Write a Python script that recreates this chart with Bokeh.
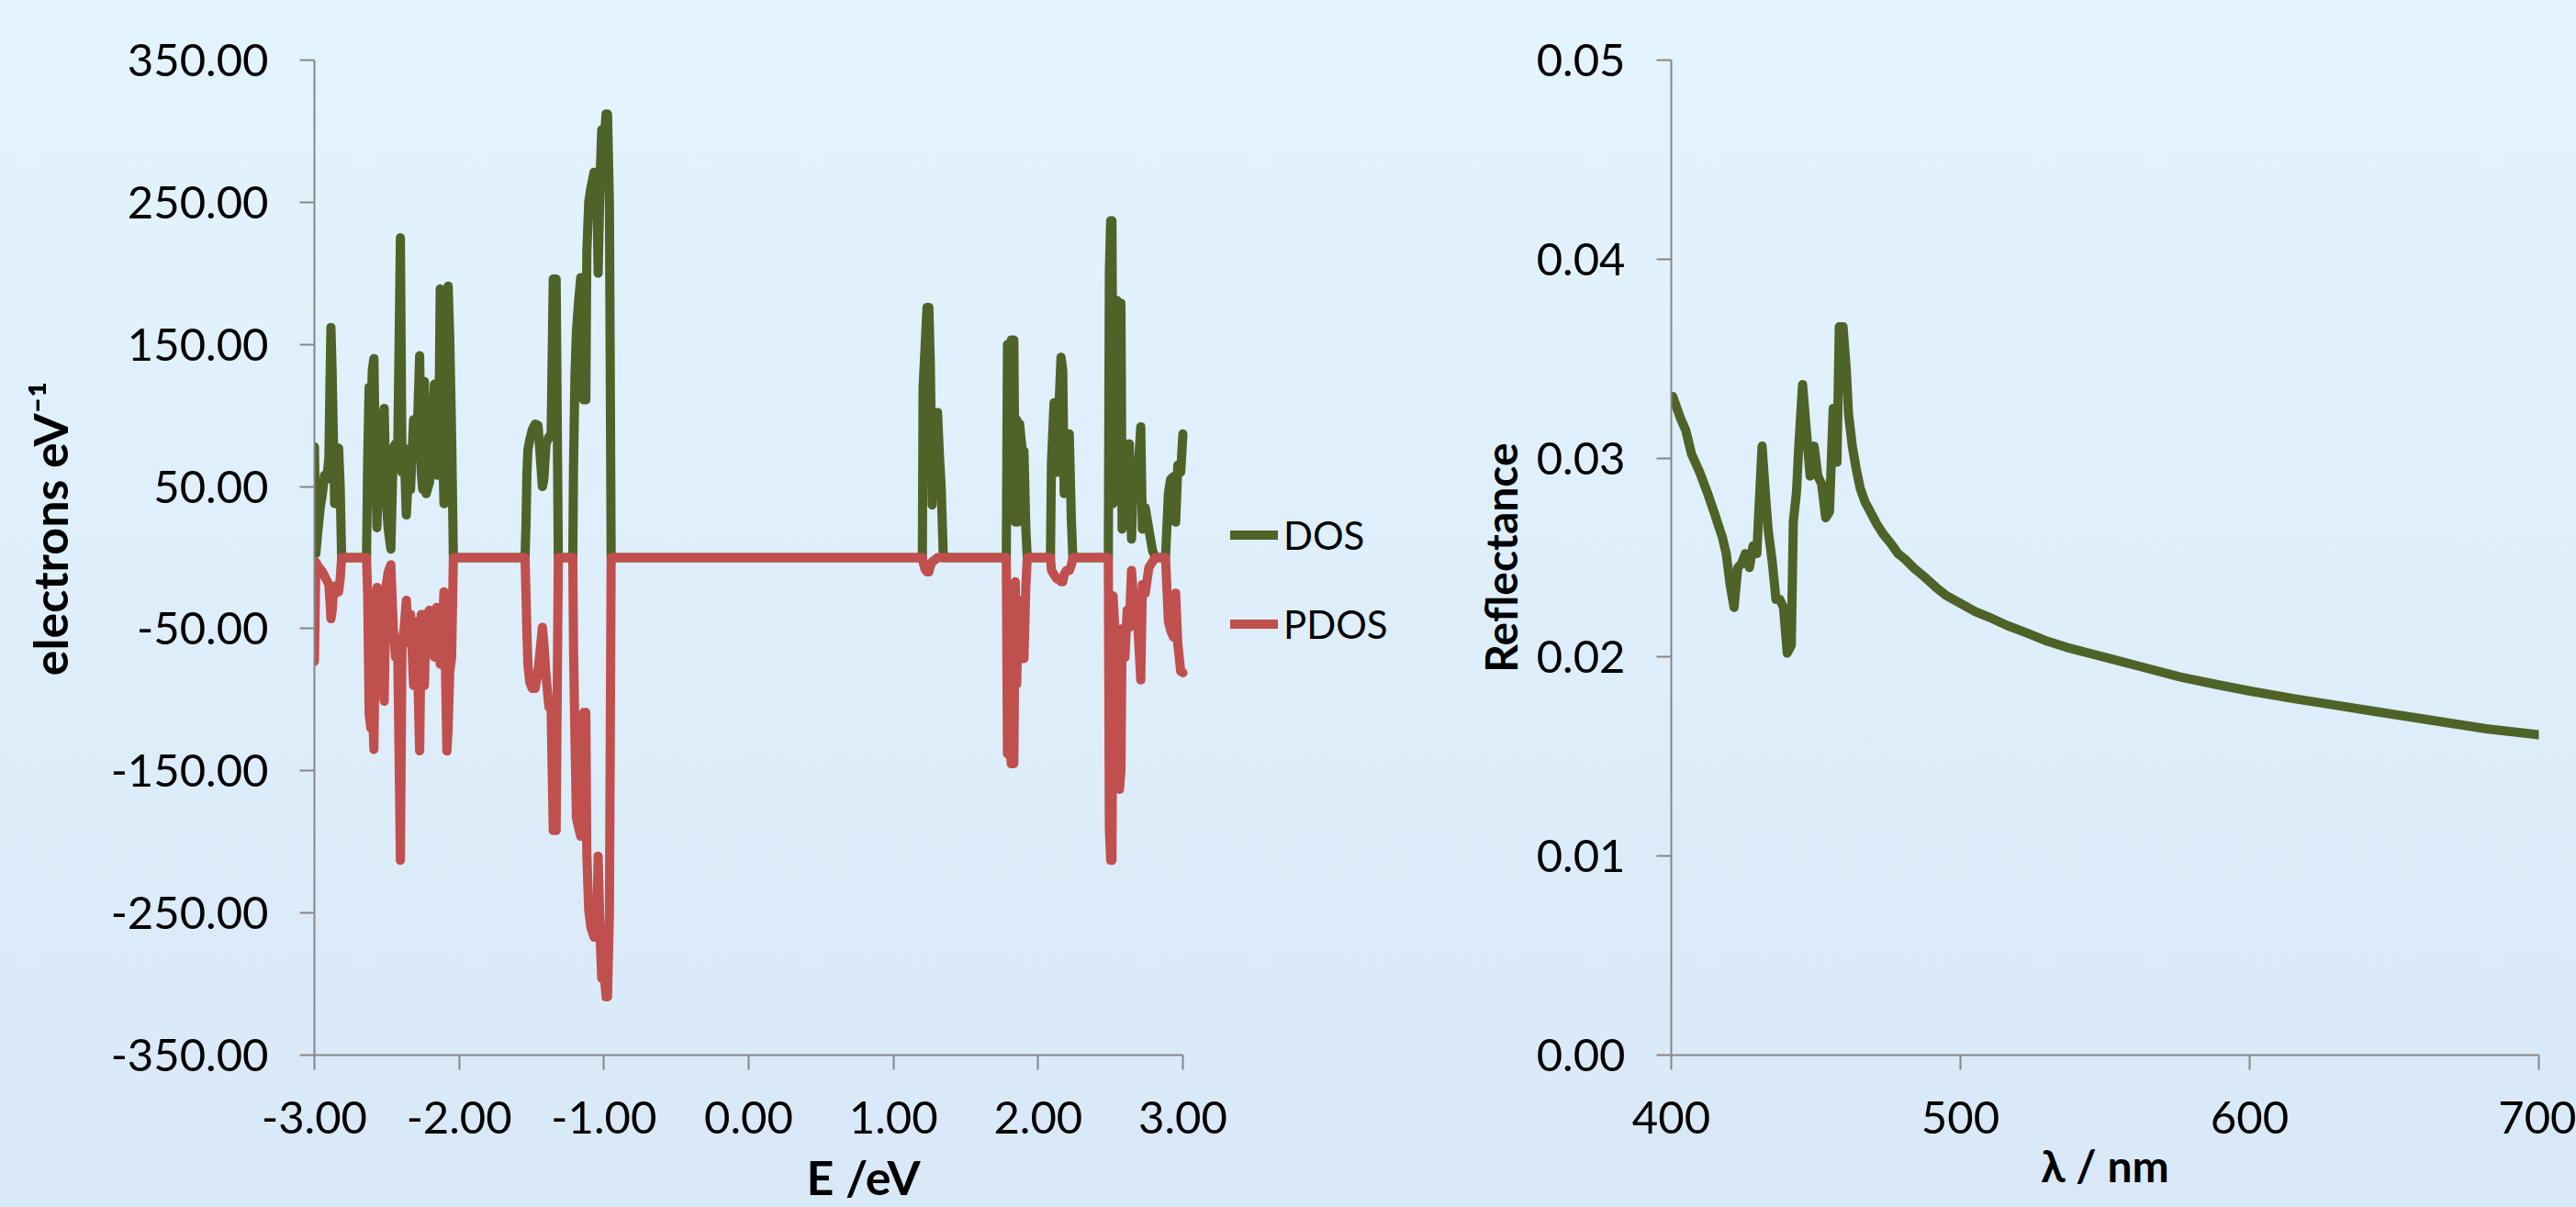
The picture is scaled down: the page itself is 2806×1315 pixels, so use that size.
from bokeh.plotting import figure
from bokeh.models import Range1d, FixedTicker, NumeralTickFormatter, Legend, LegendItem
from bokeh.layouts import row
from bokeh.embed import file_html
from bokeh.resources import INLINE

# ---------------- data ----------------
energy = [
    -3.000, -2.990, -2.975, -2.960, -2.945, -2.930, -2.915, -2.900, -2.893, -2.886, -2.878, -2.870,
    -2.860, -2.850, -2.840, -2.833, -2.822, -2.812,
    -2.640,
    -2.632, -2.622, -2.610, -2.600, -2.589, -2.578, -2.568, -2.555, -2.545, -2.530, -2.518, -2.505,
    -2.490, -2.472, -2.455, -2.440, -2.425, -2.406, -2.395, -2.380, -2.365, -2.350, -2.336, -2.315,
    -2.295, -2.273, -2.262, -2.252, -2.240, -2.228, -2.205, -2.190, -2.171, -2.155, -2.140, -2.131,
    -2.120, -2.105, -2.095, -2.085, -2.076, -2.065, -2.052, -2.040,
    -1.545,
    -1.538, -1.532, -1.525, -1.512, -1.495, -1.475, -1.455, -1.425, -1.415, -1.400, -1.380, -1.365,
    -1.350, -1.330, -1.315,
    -1.215,
    -1.210, -1.200, -1.190, -1.175, -1.160, -1.150, -1.140, -1.125, -1.118, -1.105, -1.090, -1.068,
    -1.050, -1.040, -1.025, -1.015, -1.000, -0.985, -0.975, -0.962, -0.950,
    1.200,
    1.205, 1.218, 1.232, 1.245, 1.255, 1.268, 1.280, 1.295, 1.305, 1.318, 1.330, 1.345,
    1.780,
    1.788, 1.800, 1.815, 1.832, 1.842, 1.852, 1.862, 1.872, 1.890, 1.902, 1.915, 1.925,
    2.085,
    2.092, 2.110, 2.130, 2.145, 2.158, 2.170, 2.180, 2.195, 2.215, 2.230, 2.240,
    2.485,
    2.492, 2.501, 2.510, 2.518, 2.535, 2.545, 2.552, 2.562, 2.572, 2.580, 2.600, 2.615, 2.630,
    2.645, 2.660, 2.690, 2.709, 2.720, 2.740, 2.765, 2.790, 2.810,
    2.880,
    2.900, 2.915, 2.935, 2.950, 2.965, 2.985, 3.000,
]
dos = [
    78, 3, 20, 35, 45, 58, 55, 70, 120, 162, 132, 90,
    38, 60, 77, 77, 50, 0,
    0,
    70, 120, 100, 132, 140, 60, 21, 80, 40, 95, 105, 40,
    20, 6, 77, 80, 70, 225, 60, 77, 30, 60, 48, 97,
    70, 142, 60, 48, 124, 45, 53, 80, 122, 58, 90, 189,
    100, 38, 60, 185, 191, 154, 85, 0,
    0,
    24, 59, 76, 83, 90, 94, 93, 50, 55, 80, 85, 85,
    196, 196, 0,
    0,
    63, 128, 159, 180, 197, 197, 111, 111, 215, 250, 260, 271,
    271, 200, 271, 301, 290, 312, 312, 250, 0,
    0,
    120, 146, 176, 176, 137, 37, 102, 72, 102, 72, 50, 0,
    0,
    150, 145, 153, 153, 25, 97, 25, 94, 75, 75, 20, 0,
    0,
    67, 109, 60, 109, 141, 132, 45, 87, 87, 25, 0,
    0,
    200, 237, 237, 38, 100, 181, 60, 179, 179, 20, 80, 28, 80,
    13, 60, 60, 92, 20, 35, 20, 5, 0,
    0,
    45, 55, 57, 25, 65, 60, 87,
]
pdos = [
    -73, -3, -6, -8, -10, -13, -16, -19, -30, -43, -38, -26,
    -20, -25, -24, -24, -15, 0,
    0,
    -26, -110, -120, -100, -135, -40, -21, -70, -30, -90, -101, -20,
    -10, -5, -50, -70, -60, -213, -60, -50, -30, -60, -40, -90,
    -45, -136, -40, -40, -90, -41, -37, -50, -70, -35, -40, -75,
    -60, -24, -75, -136, -120, -80, -70, 0,
    0,
    -27, -53, -75, -88, -92, -92, -80, -49, -60, -83, -105, -105,
    -192, -192, 0,
    0,
    -62, -127, -183, -190, -196, -196, -109, -109, -209, -248, -260, -267,
    -267, -210, -270, -296, -290, -309, -309, -250, 0,
    0,
    -3, -8, -10, -10, -6, -3, -2, -1, 0, 0, 0, 0,
    0,
    -138, -130, -145, -145, -17, -89, -30, -49, -71, -71, -20, 0,
    0,
    -9, -12, -15, -15, -17, -17, -12, -9, -9, -5, 0,
    0,
    -190, -213, -213, -27, -60, -160, -80, -163, -150, -50, -70, -37, -49,
    -9, -30, -50, -86, -19, -25, -7, -3, 0,
    0,
    -45, -51, -56, -25, -61, -80, -81,
]

wavelength = [
    400.5, 403.2, 405.0, 407.0, 409.8, 412.4, 415.0, 417.7, 419.0, 420.3, 421.7, 423.0,
    424.3, 425.6, 427.0, 428.3, 429.6, 430.1, 431.4, 432.7, 433.5, 434.9, 436.2, 437.5,
    438.8, 440.1, 441.5, 442.2, 443.3, 444.1, 445.4, 446.7, 448.0, 449.4, 450.7, 452.0,
    453.4, 454.7, 456.0, 457.3, 458.1, 459.4, 460.5, 461.3, 462.6, 463.9, 465.3, 467.0,
    469.2, 471.0, 473.2, 476.0, 478.4, 481.0, 483.7, 487.0, 491.6, 495.0, 500.0, 505.0,
    510.0, 516.0, 523.2, 530.0, 536.5, 549.7, 562.9, 576.1, 589.3, 599.9,
    615.7, 628.9, 642.1, 655.3, 668.6, 681.8, 700.0,
]
reflectance = [
    0.0331, 0.0320, 0.0314, 0.0302, 0.0293, 0.0283, 0.0272, 0.0260, 0.0252, 0.0237, 0.0225, 0.0245,
    0.0247, 0.0252, 0.0245, 0.0256, 0.0252, 0.0268, 0.0306, 0.0279, 0.0264, 0.0248, 0.0229, 0.0229,
    0.0225, 0.0202, 0.0206, 0.0268, 0.0283, 0.0306, 0.0337, 0.0314, 0.0291, 0.0306, 0.0291, 0.0287,
    0.0270, 0.0273, 0.0325, 0.0298, 0.0366, 0.0366, 0.0345, 0.0322, 0.0306, 0.0295, 0.0285, 0.0278,
    0.0272, 0.0267, 0.0262, 0.0257, 0.0252, 0.0249, 0.0245, 0.0241, 0.0235, 0.0231, 0.0227, 0.0223,
    0.0220, 0.0216, 0.0212, 0.0208, 0.0205, 0.0200, 0.0195, 0.0190, 0.0186, 0.0183,
    0.0179, 0.0176, 0.0173, 0.0170, 0.0167, 0.0164, 0.0161,
]

dos_ticks_x = [-3, -2, -1, 0, 1, 2, 3]
dos_ticks_y = [-350, -250, -150, -50, 50, 150, 250, 350]
refl_ticks_x = [400, 500, 600, 700]
refl_ticks_y = [0.0, 0.01, 0.02, 0.03, 0.04, 0.05]

GREEN = "#4f6228"
RED = "#c0504d"
AXIS = "#868686"
FONT = "Lato"
BG = "linear-gradient(to bottom, #e3f4fe 0%, #d9e8f7 100%)"
NB = "\u00a0"


def style(p):
    p.xgrid.visible = False
    p.ygrid.visible = False
    p.outline_line_color = None
    p.background_fill_alpha = 0
    p.border_fill_alpha = 0
    p.styles = {"background": BG}
    for ax in p.axis:
        ax.axis_line_color = AXIS
        ax.axis_line_width = 2
        ax.major_tick_line_color = AXIS
        ax.major_tick_line_width = 2
        ax.major_tick_out = 16
        ax.major_tick_in = 0
        ax.minor_tick_out = 0
        ax.minor_tick_in = 0
        ax.major_label_standoff = 34
        ax.major_label_text_font = FONT
        ax.major_label_text_font_size = "49px"
        ax.major_label_text_color = "black"
        ax.axis_label_text_font = FONT
        ax.axis_label_text_font_size = "48px"
        ax.axis_label_text_font_style = "bold"
        ax.axis_label_text_color = "black"


# ---------------- left: DOS ----------------
# The frame is widened to the right (beyond E = 3) so that the legend can sit inside it;
# the x axis itself is bounded to [-3, 3].
L_LEFT, L_AXIS_W, L_RIGHT, L_WIDTH = 342, 946, 10, 1548
frame_w = L_WIDTH - L_LEFT - L_RIGHT
x_end = -3 + 6 * frame_w / L_AXIS_W

p1 = figure(width=L_WIDTH, height=1315, x_range=Range1d(-3, x_end), y_range=Range1d(-350, 350),
            output_backend="svg", toolbar_location=None,
            min_border_left=L_LEFT, min_border_right=L_RIGHT, min_border_top=65, min_border_bottom=166)
style(p1)
p1.xaxis.bounds = (-3, 3)
p1.xaxis.ticker = FixedTicker(ticks=dos_ticks_x)
p1.yaxis.ticker = FixedTicker(ticks=dos_ticks_y)
p1.xaxis.formatter = NumeralTickFormatter(format="0.00")
p1.yaxis.formatter = NumeralTickFormatter(format="0.00")
p1.yaxis.axis_label = NB * 5 + "electrons eV\u207b\u00b9"
p1.yaxis.axis_label_text_font_size = "52px"
p1.yaxis.axis_label_standoff = 33
p1.xaxis.axis_label = "E /eV"
p1.xaxis.axis_label_text_font_size = "52px"
p1.xaxis.axis_label_standoff = 13

r_dos = p1.line(energy, dos, line_color=GREEN, line_width=10, line_cap="round", line_join="round")
r_pdos = p1.line(energy, pdos, line_color=RED, line_width=10, line_cap="round", line_join="round")

legend = Legend(items=[LegendItem(label="DOS", renderers=[r_dos]),
                       LegendItem(label="PDOS", renderers=[r_pdos])],
                location=(998, 421), glyph_width=52, glyph_height=97, label_height=97,
                spacing=0, padding=0, margin=0, label_standoff=6,
                label_text_font=FONT, label_text_font_size="42px", label_text_color="black",
                border_line_color=None, background_fill_alpha=0)
p1.add_layout(legend)

# ---------------- right: Reflectance ----------------
p2 = figure(width=1258, height=1315, x_range=Range1d(400, 700), y_range=Range1d(0, 0.05),
            output_backend="svg", toolbar_location=None,
            min_border_left=272, min_border_right=41, min_border_top=64, min_border_bottom=161)
style(p2)
p2.xaxis.ticker = FixedTicker(ticks=refl_ticks_x)
p2.yaxis.ticker = FixedTicker(ticks=refl_ticks_y)
p2.xaxis.formatter = NumeralTickFormatter(format="0")
p2.yaxis.formatter = NumeralTickFormatter(format="0.00")
p2.yaxis.axis_label = "Reflectance"
p2.yaxis.axis_label_standoff = 8
p2.xaxis.axis_label = "\u03bb / nm"
p2.xaxis.axis_label_standoff = 3

p2.line(wavelength, reflectance, line_color=GREEN, line_width=10, line_cap="round", line_join="round")

layout = row(p1, p2)

open("out.html", "w").write(file_html(layout, INLINE))
